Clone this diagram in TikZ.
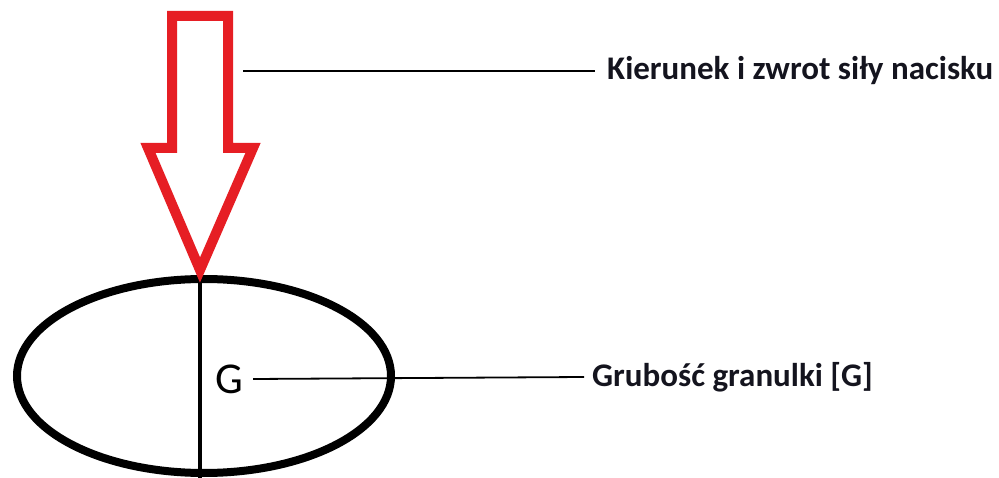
\documentclass[tikz,border=0pt]{standalone}
\usepackage{fontspec}
\setmainfont{Carlito}
\usetikzlibrary{shapes.geometric}
\definecolor{arrowred}{RGB}{230,30,36}
\definecolor{labeltext}{RGB}{20,20,30}
\tikzset{
  label text/.style={font=\fontsize{33}{35}\selectfont\bfseries, text=labeltext, anchor=west, inner sep=0pt},
  leader/.style={line width=1.8pt, black},
  granule/.style={draw, line width=8pt, ellipse, inner sep=0pt},
  forcearrow/.style={draw=arrowred, line width=10pt, line join=miter, fill=white}
}
\begin{document}
\begin{tikzpicture}[x=1pt, y=-1pt]
\useasboundingbox (0,0) rectangle (999,478);
% granule
\node[granule, minimum width=374pt, minimum height=194pt] (gran) at (204,376) {};
\coordinate (axtop) at (200,280);
\coordinate (axbot) at (200,478);
\draw[line width=3.5pt] (axtop) -- (axbot);
% G
\node[font=\fontsize{44}{46}\selectfont, inner sep=0pt] (g) at (229,379) {G};
% force arrow
\draw[forcearrow] (172,16) -- (228,16) -- (228,148) -- (253,148) -- (200,270) -- (148,148) -- (172,148) -- cycle;
\coordinate (arrowside) at (243,71);
% labels
\node[label text] (lab1) at (607,71) {Kierunek i zwrot siły nacisku};
\node[label text] (lab2) at (592,377) {Grubość granulki [G]};
\draw[leader] (arrowside) -- ([xshift=-12pt]lab1.west);
\draw[leader] ([xshift=10pt]g.east) -- ([xshift=-8pt]lab2.west);
\end{tikzpicture}
\end{document}
